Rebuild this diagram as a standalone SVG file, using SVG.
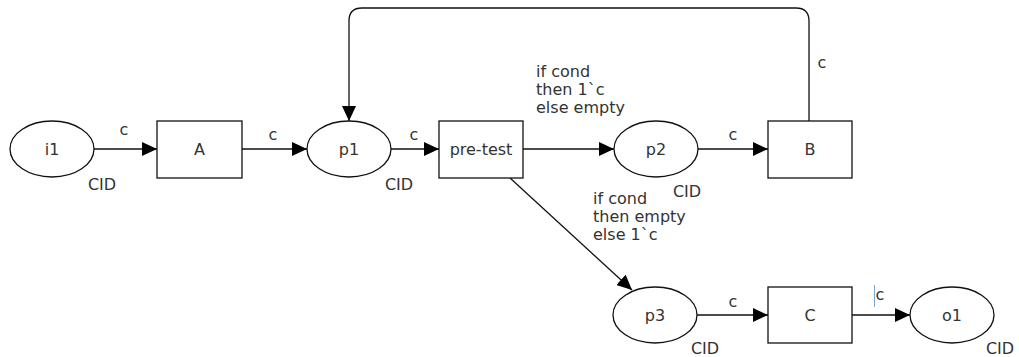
<svg xmlns="http://www.w3.org/2000/svg" width="1019" height="357" viewBox="0 0 1019 357">
<style>
.shape{fill:#fff;stroke:#111;stroke-width:1.3}
.arc{fill:none;stroke:#111;stroke-width:1.3;marker-end:url(#ah)}
.plain{fill:none;stroke:#333;stroke-width:1.1}
text{font-family:"DejaVu Sans",Verdana,sans-serif;font-size:16px;fill:#333}
.mid{text-anchor:middle}
</style>
<defs>
<marker id="ah" markerUnits="userSpaceOnUse" markerWidth="16" markerHeight="14" refX="15" refY="7" orient="auto">
<path d="M0,0 L15,7 L0,14 z" fill="#000"/>
</marker>
</defs>
<rect width="1019" height="357" fill="#fff"/>
<g id="connectors">
<line class="arc" x1="94" y1="149" x2="157" y2="149"/>
<line class="arc" x1="242" y1="149" x2="307" y2="149"/>
<line class="arc" x1="391" y1="149" x2="439" y2="149"/>
<line class="arc" x1="523" y1="149" x2="614" y2="149"/>
<line class="arc" x1="698" y1="149" x2="768" y2="149"/>
<path class="arc" d="M809,121 V21 Q809,8 796,8 H362 Q349,8 349,21 V121"/>
<line class="arc" x1="510" y1="178" x2="632" y2="290"/>
<line class="arc" x1="697" y1="315" x2="768" y2="315"/>
<line class="arc" x1="852" y1="315" x2="910" y2="315"/>
<text class="mid" x="124" y="135">c</text>
<text class="mid" x="273" y="140">c</text>
<text class="mid" x="414" y="140">c</text>
<text class="mid" x="733" y="140">c</text>
<text class="mid" x="822" y="68">c</text>
<text x="536" y="77">if cond</text>
<text x="536" y="95">then 1`c</text>
<text x="536" y="113">else empty</text>
<text x="593" y="204">if cond</text>
<text x="593" y="222">then empty</text>
<text x="593" y="240">else 1`c</text>
<text class="mid" x="733" y="307">c</text>
<text class="mid" x="880" y="300">c</text>
<line x1="874.5" y1="285" x2="874.5" y2="307" stroke="#7aa7d6" stroke-width="1"/>
</g>
<g id="i1">
<ellipse class="shape" cx="52" cy="149" rx="42" ry="28"/>
<text class="mid" x="52" y="155">i1</text>
<text class="mid" x="102" y="190">CID</text>
</g>
<g id="A">
<rect class="shape" x="157" y="121" width="85" height="57"/>
<text class="mid" x="199.5" y="155">A</text>
</g>
<g id="p1">
<ellipse class="shape" cx="349" cy="149" rx="42" ry="28"/>
<text class="mid" x="349" y="155">p1</text>
<text class="mid" x="399" y="190">CID</text>
</g>
<g id="pre-test">
<rect class="shape" x="439" y="121" width="84" height="57"/>
<text class="mid" x="481" y="155">pre-test</text>
</g>
<g id="p2">
<ellipse class="shape" cx="656" cy="149" rx="42" ry="28"/>
<text class="mid" x="656" y="155">p2</text>
<text class="mid" x="687" y="197">CID</text>
</g>
<g id="B">
<rect class="shape" x="768" y="121" width="84" height="57"/>
<text class="mid" x="810" y="155">B</text>
</g>
<g id="p3">
<ellipse class="shape" cx="655" cy="315" rx="42" ry="28"/>
<text class="mid" x="655" y="321">p3</text>
<text class="mid" x="705" y="354">CID</text>
</g>
<g id="C">
<rect class="shape" x="768" y="287" width="84" height="56"/>
<text class="mid" x="810" y="321">C</text>
</g>
<g id="o1">
<ellipse class="shape" cx="952" cy="315" rx="42" ry="28"/>
<text class="mid" x="952" y="321">o1</text>
<text class="mid" x="1000" y="354">CID</text>
</g>
</svg>
